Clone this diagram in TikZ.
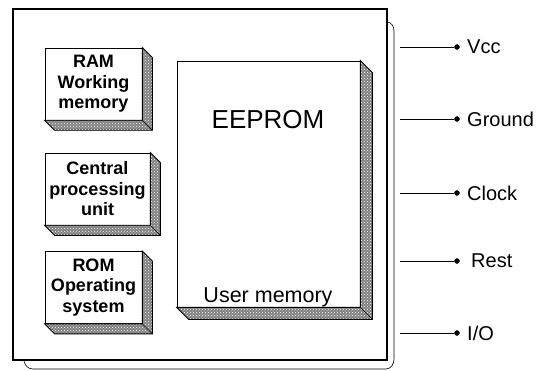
\documentclass[tikz,border=0pt]{standalone}
\usepackage{fontspec}
\setmainfont{Liberation Sans}
\usetikzlibrary{patterns,calc}
\begin{document}
\begin{tikzpicture}[x=1pt,y=-1pt,
  face/.style={draw, line width=0.7pt, fill=white, inner sep=0pt, align=center,
    font=\fontsize{18}{20.5}\selectfont\bfseries},
  patt/.style={draw, line width=0.8pt, preaction={fill=black!50}, pattern=crosshatch dots, pattern color=white},
  pinline/.style={line width=0.6pt},
  pindot/.style={circle, draw=black, fill=black, inner sep=0pt, minimum size=5pt},
  pinlabel/.style={anchor=west, inner sep=0pt, font=\fontsize{20}{22}\selectfont}]
\useasboundingbox (0,0) rectangle (548,371);
% shadow bracket
\draw[line width=0.6pt] (387,22) to[out=0,in=90] (394,31) -- (394,359)
  to[out=-90,in=0] (386,369) -- (33,369) to[out=180,in=-80] (24,361);
% outer card
\node[draw, line width=2pt, fill=white, minimum width=374pt, minimum height=351pt, inner sep=0pt] (card) at (200,184.5) {};
% RAM
\node[face, minimum width=97pt, minimum height=72pt] (ram) at (93.5,84) {RAM\\Working\\memory};
\draw[patt] (ram.north east) -- ++(10,10) -- ($(ram.south east)+(10,10)$) -- ($(ram.south west)+(10,10)$) -- (ram.south west) -- (ram.south east) -- cycle;
\draw[line width=0.7pt] (ram.south east) -- ++(10,10);
% CPU
\node[face, minimum width=105pt, minimum height=72pt] (cpu) at (97.5,189) {Central\\processing\\unit};
\draw[patt] (cpu.north east) -- ++(10,10) -- ($(cpu.south east)+(10,10)$) -- ($(cpu.south west)+(10,10)$) -- (cpu.south west) -- (cpu.south east) -- cycle;
\draw[line width=0.7pt] (cpu.south east) -- ++(10,10);
% ROM
\node[face, minimum width=97pt, minimum height=72pt] (rom) at (93.5,287.5) {ROM\\Operating\\system};
\draw[patt] (rom.north east) -- ++(10,10) -- ($(rom.south east)+(10,10)$) -- ($(rom.south west)+(10,10)$) -- (rom.south west) -- (rom.south east) -- cycle;
\draw[line width=0.7pt] (rom.south east) -- ++(10,10);
% EEPROM
\node[face, minimum width=183pt, minimum height=246pt] (eeprom) at (268.5,184) {};
\draw[patt] (eeprom.north east) -- ++(12,12) -- ($(eeprom.south east)+(12,12)$) -- ($(eeprom.south west)+(12,12)$) -- (eeprom.south west) -- (eeprom.south east) -- cycle;
\draw[line width=0.7pt] (eeprom.south east) -- ++(12,12);
\node[font=\fontsize{26}{28}\selectfont] (eet) at (268,120) {EEPROM};
\node[font=\fontsize{21.5}{24}\selectfont, inner sep=0pt] (umt) at (268,297) {User memory};
% pins
\foreach \n/\y/\t/\lx in {vcc/47/Vcc/467, gnd/119/Ground/467, clk/193/Clock/467, rst/261/Rest/471, io/333/I\slash O/467}{
  \coordinate (\n s) at (400,\y);
  \node[pindot] (\n) at (457,\y) {};
  \draw[pinline] (\n s) -- (\n);
  \node[pinlabel] (\n l) at (\lx,\y) {\t};
}
\end{tikzpicture}
\end{document}
